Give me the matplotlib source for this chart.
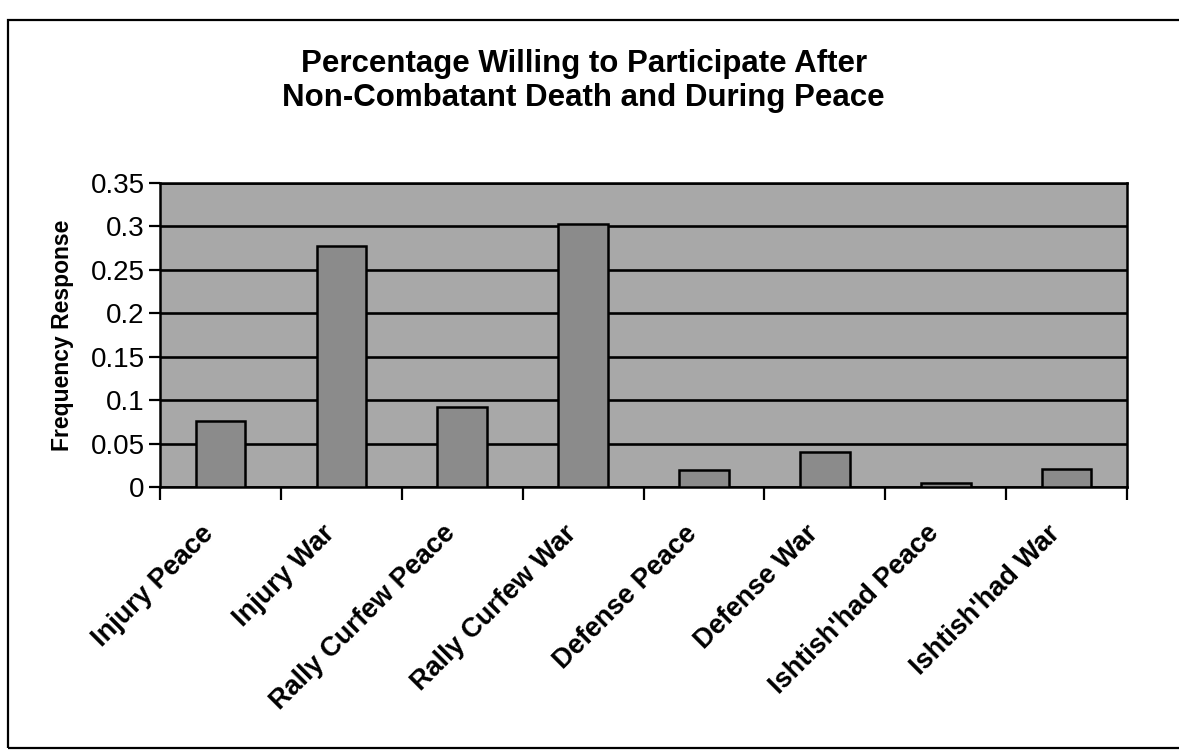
import matplotlib
matplotlib.use("Agg")
import matplotlib.pyplot as plt
from matplotlib.patches import Rectangle
from matplotlib.transforms import ScaledTranslation

# chart data
categories = ["Injury Peace", "Injury War", "Rally Curfew Peace", "Rally Curfew War",
              "Defense Peace", "Defense War", "Ishtish'had Peace", "Ishtish'had War"]
frequency = [0.076, 0.277, 0.092, 0.303, 0.020, 0.040, 0.005, 0.021]
y_ticks = [0, 0.05, 0.1, 0.15, 0.2, 0.25, 0.3, 0.35]
y_tick_labels = ["0", "0.05", "0.1", "0.15", "0.2", "0.25", "0.3", "0.35"]

plt.rcParams['font.family'] = ['Liberation Sans', 'DejaVu Sans']

fig = plt.figure(figsize=(11.79, 7.52), dpi=100)
ax = fig.add_axes([0.1357, 0.3524, 0.8203, 0.4042])

# outer frame of the chart object
fig.patches.append(Rectangle((0.007, 0.005), 1.05, 0.968, transform=fig.transFigure,
                             fill=False, edgecolor='black', linewidth=1.6))

x = range(len(categories))
ax.set_facecolor('#a8a8a8')
ax.set_axisbelow(True)
ax.yaxis.grid(True, color='black', linewidth=1.9)
ax.bar(x, frequency, width=0.41, color='#8b8b8b', edgecolor='black', linewidth=1.8, zorder=3)

ax.set_xlim(-0.5, len(categories) - 0.5)
ax.set_ylim(0, 0.35)
ax.set_yticks(y_ticks)
ax.set_yticklabels(y_tick_labels, fontsize=20)
ax.tick_params(axis='y', direction='out', length=8, width=1.6, pad=3)

# labels at category centres, tick marks at category boundaries
ax.set_xticks(list(x))
ax.set_xticklabels(categories, rotation=45, ha='right', rotation_mode='anchor',
                   fontsize=19.5, fontweight='bold')
ax.tick_params(axis='x', which='major', length=0, pad=24)
shift = ScaledTranslation(-0.2, 0, fig.dpi_scale_trans)
for lab in ax.get_xticklabels():
    lab.set_transform(lab.get_transform() + shift)
ax.set_xticks([i - 0.5 for i in range(len(categories) + 1)], minor=True)
ax.tick_params(axis='x', which='minor', direction='out', length=9, width=1.6)

for s in ax.spines.values():
    s.set_linewidth(1.8)
    s.set_color('black')

ax.set_ylabel("Frequency Response", fontsize=16.5, fontweight='bold', labelpad=12)
fig.suptitle("Percentage Willing to Participate After\nNon-Combatant Death and During Peace",
             x=0.495, y=0.935, fontsize=22.5, fontweight='bold', linespacing=1.2)

plt.savefig("out.png", dpi=100)
